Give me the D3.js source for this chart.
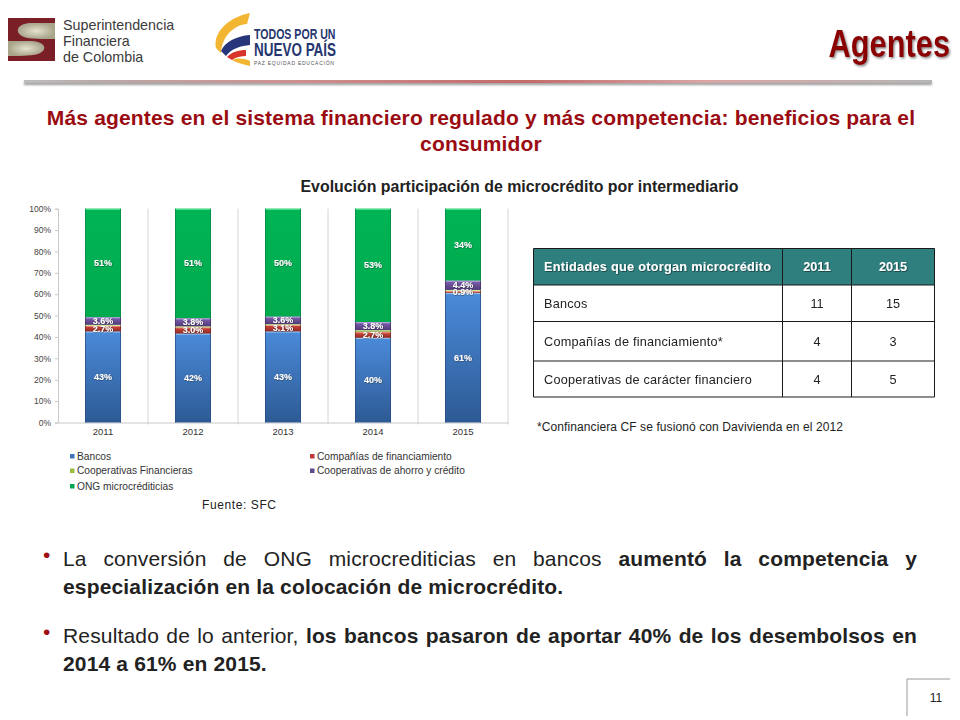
<!DOCTYPE html>
<html><head><meta charset="utf-8">
<script src="https://d3js.org/d3.v7.min.js"></script>
<style>
html,body{margin:0;padding:0;background:#fff;}
svg{display:block;position:absolute;left:0;top:0;}
text{font-family:"Liberation Sans",Arial,sans-serif;}
.body{position:absolute;left:63px;width:854px;font:21px/28px "Liberation Sans",Arial,sans-serif;letter-spacing:.16px;color:#222;text-align:justify;}
.body b{font-weight:bold;}
</style></head><body>
<svg id="s" width="960" height="720"></svg>
<div class="body" style="top:545px;">La conversión de ONG microcrediticias en bancos <b>aumentó la competencia y especialización en la colocación de microcrédito.</b></div>
<div class="body" style="top:622px;">Resultado de lo anterior, <b>los bancos pasaron de aportar 40% de los desembolsos en 2014 a 61% en 2015.</b></div>
<script>
const years = ["2011","2012","2013","2014","2015"];
const seriesNames = ["Bancos","Compañías de financiamiento","Cooperativas Financieras","Cooperativas de ahorro y crédito","ONG microcréditicias"];
const bancos = [42.6,41.6,42.6,39.6,60.6];
const companias = [2.7,3.0,3.1,2.7,0.9];
const cooperativasFin = [0.4,0.4,0.3,0.9,0.5];
const cooperativasAhorro = [3.6,3.8,3.6,3.8,4.4];
const ong = [50.7,51.2,50.4,53.0,33.6];
const yTicks = [0,10,20,30,40,50,60,70,80,90,100];
const tableHeader = ["Entidades que otorgan microcrédito","2011","2015"];
const tableEntities = ["Bancos","Compañías de financiamiento*","Cooperativas de carácter financiero"];
const table2011 = [11,4,4];
const table2015 = [15,3,5];

const svg = d3.select("#s");
const defs = svg.append("defs");
const colors = [
 {top:"#4b8ad9",bot:"#2d5a94",cap:"#8fc0f0",edge:"#2a5185"},
 {top:"#d8473a",bot:"#8c2b27",cap:"#f08a7c",edge:"#7d2522"},
 {top:"#a9c868",bot:"#7f9a44",cap:"#cfe59a",edge:"#6f8a3a"},
 {top:"#8263b4",bot:"#4f3a78",cap:"#b7a0dc",edge:"#46336c"},
 {top:"#00b455",bot:"#00ab4e",cap:"#55e28f",edge:"#058a45"}];
colors.forEach((c,i)=>{
 const g=defs.append("linearGradient").attr("id","g"+i).attr("x1",0).attr("y1",0).attr("x2",0).attr("y2",1);
 g.append("stop").attr("offset","0%").attr("stop-color",c.top);
 g.append("stop").attr("offset","100%").attr("stop-color",c.bot);
});
const rg=defs.append("linearGradient").attr("id","rule");
[["0%","#bdbdbd"],["8%","#b9a9a9"],["30%","#cf8f8f"],["55%","#c46a6a"],["75%","#d9a5a5"],["100%","#b5b5b5"]]
 .forEach(s=>rg.append("stop").attr("offset",s[0]).attr("stop-color",s[1]));
const f=defs.append("filter").attr("id","blur").attr("x","-5%").attr("y","-100%").attr("width","110%").attr("height","300%");
f.append("feGaussianBlur").attr("stdDeviation",1);
const ts=defs.append("filter").attr("id","tshadow").attr("x","-20%").attr("y","-20%").attr("width","140%").attr("height","140%");
ts.append("feDropShadow").attr("dx",1.5).attr("dy",1.5).attr("stdDeviation",1).attr("flood-color","#555").attr("flood-opacity",.7);
const ls=defs.append("filter").attr("id","lshadow").attr("x","-30%").attr("y","-30%").attr("width","160%").attr("height","160%");
ls.append("feDropShadow").attr("dx",0.4).attr("dy",0.4).attr("stdDeviation",0.5).attr("flood-color","#222").attr("flood-opacity",.9);
const hs=defs.append("filter").attr("id","hshadow").attr("x","-10%").attr("y","-30%").attr("width","120%").attr("height","160%");
hs.append("feDropShadow").attr("dx",0.7).attr("dy",0.7).attr("stdDeviation",0.5).attr("flood-color","#000").attr("flood-opacity",.6);
const lg2=defs.append("radialGradient").attr("id","beige");
lg2.append("stop").attr("offset","0%").attr("stop-color","#e6e3cf");
lg2.append("stop").attr("offset","100%").attr("stop-color","#a9a58a");

/* header: logo 1 */
const logo=svg.append("g");
logo.append("rect").attr("x",8).attr("y",18).attr("width",47).attr("height",43).attr("fill","#7a1f25");
logo.append("path").attr("fill","url(#beige)").attr("d","M55,23 L30,23 C16,24 14,33 24,37 C30,39 42,39 55,39 Z");
logo.append("path").attr("fill","url(#beige)").attr("d","M8,41 L32,41 C46,42 48,50 38,54 C30,56 18,56 8,56 Z");
[["Superintendencia",30],["Financiera",46],["de Colombia",62]].forEach(d=>
 logo.append("text").attr("x",63).attr("y",d[1]).attr("font-size",14.3).attr("fill","#3a3a3a").text(d[0]));
/* logo 2 */
const l2=svg.append("g");
l2.append("path").attr("fill","#f2b632").attr("d","M250,13 C226,18 213,34 216,48 L221,53 C222,36 234,25 247,24 Z");
l2.append("path").attr("fill","#27367a").attr("d","M250,35 C236,36 225,42 221,51 L226,56 C232,48 241,46 250,45 Z");
l2.append("path").attr("fill","#d8342c").attr("d","M246,50 C238,50 232,52 227,57 L232,60 C236,57 241,56 246,56 Z");
l2.append("path").attr("fill","#f2b632").attr("d","M232,60 C237,58 243,58 250,61 L250,66 C243,64 237,63 232,60 Z");
l2.append("text").attr("transform","translate(254,39) scale(.73,1)").attr("font-size",14.5).attr("font-weight","bold").attr("fill","#26376f").text("TODOS POR UN");
l2.append("text").attr("transform","translate(254,56) scale(.77,1)").attr("font-size",17.5).attr("font-weight","bold").attr("fill","#26376f").text("NUEVO PAÍS");
l2.append("text").attr("x",254).attr("y",65).attr("font-size",5).attr("letter-spacing",".75").attr("fill","#555").text("PAZ  EQUIDAD  EDUCACIÓN");

/* title and rule */
svg.append("text").attr("transform","translate(950,57) scale(.81,1)").attr("text-anchor","end").attr("font-size",38).attr("font-weight","bold").attr("fill","#8b0000").attr("filter","url(#tshadow)").text("Agentes");
svg.append("rect").attr("x",24).attr("y",82).attr("width",908).attr("height",3).attr("fill","#999").attr("filter","url(#blur)");
svg.append("rect").attr("x",24).attr("y",80).attr("width",908).attr("height",3).attr("fill","url(#rule)");

/* heading */
[["Más agentes en el sistema financiero regulado y más competencia: beneficios para el",125],["consumidor",151]].forEach(d=>
 svg.append("text").attr("x",481).attr("y",d[1]).attr("text-anchor","middle").attr("font-size",21).attr("letter-spacing",".17").attr("font-weight","bold").attr("fill","#9a0b12").text(d[0]));
svg.append("text").attr("x",519.5).attr("y",192).attr("text-anchor","middle").attr("font-size",15.9).attr("font-weight","bold").attr("fill","#222").text("Evolución participación de microcrédito por intermediario");

/* chart */
const x=d3.scaleBand().domain(years).range([58,508]).paddingInner(0.6).paddingOuter(0.3);
const y=d3.scaleLinear().domain([0,100]).range([422.5,208.7]);
const sep=svg.append("g");
const step=x.step();
sep.selectAll("line").data(years).join("line")
 .attr("x1",d=>x(d)+x.bandwidth()/2+step/2).attr("x2",d=>x(d)+x.bandwidth()/2+step/2)
 .attr("y1",y(100)).attr("y2",y(0)+2).attr("stroke","#d4d4d4").attr("stroke-width",1);
const axY=svg.append("g").attr("transform","translate(58,0)").call(d3.axisLeft(y).tickValues(yTicks).tickFormat(d=>d+"%").tickSize(3).tickPadding(4));
axY.selectAll("path,line").attr("stroke","#c8c8c8");
axY.selectAll("text").attr("font-size",8.5).attr("font-family","Liberation Sans").attr("fill","#444");
const axX=svg.append("g").attr("transform","translate(0,422.5)").call(d3.axisBottom(x).tickSize(0).tickPadding(6));
axX.selectAll("path").attr("stroke","#c8c8c8");
axX.selectAll("text").attr("font-size",9.5).attr("font-family","Liberation Sans").attr("fill","#333");

const seriesData=[bancos,companias,cooperativasFin,cooperativasAhorro,ong];
const stackKeys=d3.range(5);
const rows=years.map((yr,i)=>{const o={year:yr};stackKeys.forEach(k=>o[k]=seriesData[k][i]);return o;});
const stacked=d3.stack().keys(stackKeys)(rows);
const labelFmt=[d3.format(".0f"),d3.format(".1f"),null,d3.format(".1f"),d3.format(".0f")];
stacked.forEach((layer,k)=>{
 const g=svg.append("g");
 g.selectAll("rect.m").data(layer).join("rect").attr("class","m")
  .attr("x",d=>x(d.data.year)).attr("width",x.bandwidth())
  .attr("y",d=>y(d[1])).attr("height",d=>y(d[0])-y(d[1]))
  .attr("fill",`url(#g${k})`);
 g.selectAll("rect.c").data(layer).join("rect").attr("class","c")
  .attr("x",d=>x(d.data.year)+0.5).attr("width",x.bandwidth()-1)
  .attr("y",d=>y(d[1])).attr("height",1.2).attr("fill",colors[k].cap);
 g.selectAll("rect.l").data(layer).join("rect").attr("class","l")
  .attr("x",d=>x(d.data.year)).attr("width",0.8)
  .attr("y",d=>y(d[1])).attr("height",d=>y(d[0])-y(d[1])).attr("fill",colors[k].edge);
 g.selectAll("rect.r").data(layer).join("rect").attr("class","r")
  .attr("x",d=>x(d.data.year)+x.bandwidth()-0.8).attr("width",0.8)
  .attr("y",d=>y(d[1])).attr("height",d=>y(d[0])-y(d[1])).attr("fill",colors[k].edge);
});
stacked.forEach((layer,k)=>{
 if(!labelFmt[k])return;
 svg.append("g").selectAll("text").data(layer).join("text")
  .attr("x",d=>x(d.data.year)+x.bandwidth()/2)
  .attr("y",d=>y((d[0]+d[1])/2)+3)
  .attr("text-anchor","middle").attr("font-size",9).attr("font-weight","bold")
  .attr("fill","#fff").attr("filter","url(#lshadow)")
  .text(d=>labelFmt[k](d[1]-d[0])+"%");
});

/* legend */
const legendPos=[[72,456],[312,456],[72,470.5],[312,470.5],[72,486]];
const legendColors=["#3f74b8","#c0383a","#9bbb3c","#5f4a90","#00a650"];
const leg=svg.append("g");
seriesNames.forEach((n,i)=>{
 leg.append("rect").attr("x",legendPos[i][0]-2).attr("y",legendPos[i][1]-2).attr("width",4.5).attr("height",4.5).attr("fill",legendColors[i]);
 leg.append("text").attr("x",legendPos[i][0]+5).attr("y",legendPos[i][1]+3.5).attr("font-size",10.2).attr("fill","#333").text(n);
});
svg.append("text").attr("x",202).attr("y",509).attr("font-size",12).attr("letter-spacing",".6").attr("fill","#222").text("Fuente: SFC");

/* table */
const colX=[533.5,782.5,851.5,934.5];
const rowY=[248.5,285,321.5,361,397];
const tb=svg.append("g").style("opacity",.999);
tb.append("rect").attr("x",colX[0]).attr("y",rowY[0]).attr("width",colX[3]-colX[0]).attr("height",rowY[1]-rowY[0]).attr("fill","#2f7f7f");
rowY.forEach(v=>tb.append("line").attr("x1",colX[0]).attr("x2",colX[3]).attr("y1",v).attr("y2",v).attr("stroke","#1a1a1a").attr("stroke-width",1));
colX.forEach(v=>tb.append("line").attr("x1",v).attr("x2",v).attr("y1",rowY[0]).attr("y2",rowY[4]).attr("stroke","#1a1a1a").attr("stroke-width",1));
tableHeader.forEach((t,i)=>{
 tb.append("text").attr("x",i?(colX[i]+colX[i+1])/2:544).attr("y",271).attr("text-anchor",i?"middle":"start")
  .attr("font-size",12.7).attr("font-weight","bold").attr("letter-spacing",i?0:".28").attr("fill","#fff").attr("filter","url(#hshadow)").text(t);
});
tableEntities.forEach((t,i)=>{
 const by=(rowY[i+1]+rowY[i+2])/2+4.5;
 tb.append("text").attr("x",544).attr("y",by).attr("font-size",12.7).attr("letter-spacing",".22").attr("fill","#222").text(t);
 tb.append("text").attr("x",(colX[1]+colX[2])/2).attr("y",by).attr("text-anchor","middle").attr("font-size",12.7).attr("fill","#222").text(table2011[i]);
 tb.append("text").attr("x",(colX[2]+colX[3])/2).attr("y",by).attr("text-anchor","middle").attr("font-size",12.7).attr("fill","#222").text(table2015[i]);
});
svg.append("text").attr("x",537).attr("y",431).attr("font-size",12).attr("fill","#222").attr("textLength",306).attr("lengthAdjust","spacing").text("*Confinanciera CF se fusionó con  Davivienda en el 2012");

/* bullets */
[[554.5],[631.5]].forEach(d=>svg.append("text").attr("x",43).attr("y",d[0]+7).attr("font-size",21).attr("fill","#a00f14").text("•"));

/* page number */
svg.append("path").attr("d","M950,679H907V716").attr("fill","none").attr("stroke","#999").attr("stroke-width",1);
svg.append("text").attr("x",936).attr("y",702).attr("text-anchor","middle").attr("font-size",12).attr("fill","#222").text("11");
</script>
</body></html>
